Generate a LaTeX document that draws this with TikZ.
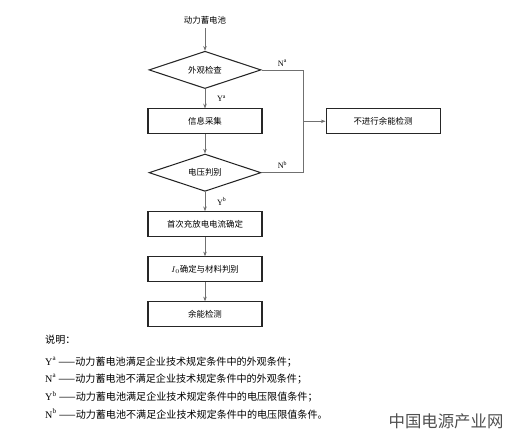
\documentclass[tikz,border=0pt]{standalone}
\usepackage{fontspec}
\setmainfont{Noto Sans CJK SC}
\newfontfamily\latin{Liberation Serif}
\usetikzlibrary{shapes.geometric, arrows.meta, positioning, calc}
\definecolor{boxLine}{HTML}{262626}
\definecolor{linkGray}{HTML}{707070}
\definecolor{siteGray}{HTML}{505050}
\tikzset{
    stepbox/.style={rectangle, draw=boxLine, line width=0.9pt, minimum width=3.42cm, minimum height=0.74cm, inner sep=1pt, font=\fontsize{7.2}{8}\selectfont},
    check/.style={diamond, aspect=3, draw=boxLine, line width=0.9pt, minimum width=3.36cm, minimum height=1.12cm, inner sep=0pt, font=\fontsize{7.2}{8}\selectfont},
    flag/.style={font=\latin\fontsize{7}{8}\selectfont, inner sep=1pt},
    legend/.style={anchor=west, inner sep=0pt, font=\fontsize{8.6}{10}\selectfont},
    arrow/.style={-{Stealth[length=4pt, width=3pt]}, draw=linkGray, line width=0.5pt},
    link/.style={draw=linkGray, line width=0.5pt},
}
\begin{document}
\begin{tikzpicture}[x=0.03cm, y=-0.03cm, node distance=0.58cm and 1.89cm]
    \useasboundingbox (0,0) rectangle (507,431);

    % flow
    \node[font=\fontsize{7.2}{8}\selectfont] (battery) at (205,20) {动力蓄电池};
    \node[check, below=0.68cm of battery] (look) {外观检查};
    \node[stepbox, below=of look] (info) {信息采集};
    \node[check, below=of info] (volt) {电压判别};
    \node[stepbox, below=of volt] (current) {首次充放电电流确定};
    \node[stepbox, below=of current] (material) {$I_0$确定与材料判别};
    \node[stepbox, below=of material] (residual) {余能检测};
    \node[stepbox, right=of info] (skip) {不进行余能检测};
    \coordinate (split) at ($(info.east)!0.65!(skip.west)$);

    \draw[arrow] (battery) -- (look);
    \draw[arrow] (look) -- node[flag, right=9pt] {Y\textsuperscript{a}} (info);
    \draw[arrow] (info) -- (volt);
    \draw[arrow] (volt) -- node[flag, right=9pt] {Y\textsuperscript{b}} (current);
    \draw[arrow] (current) -- (material);
    \draw[arrow] (material) -- (residual);
    \draw[link] (look.east) -- node[flag, above=2pt] {N\textsuperscript{a}} (look.east -| split)
        -- (volt.east -| split) -- node[flag, above=2pt] {N\textsuperscript{b}} (volt.east);
    \draw[arrow] (split |- skip.west) -- (skip);

    % legend
    \node[legend] (note) at (45,340) {说明：};
    \node[legend] (ya) at (45,362) {{\latin Y\textsuperscript{a}} ——动力蓄电池满足企业技术规定条件中的外观条件；};
    \node[legend] (na) at (45,379) {{\latin N\textsuperscript{a}} ——动力蓄电池不满足企业技术规定条件中的外观条件；};
    \node[legend] (yb) at (45,397) {{\latin Y\textsuperscript{b}} ——动力蓄电池满足企业技术规定条件中的电压限值条件；};
    \node[legend] (nb) at (45,414) {{\latin N\textsuperscript{b}} ——动力蓄电池不满足企业技术规定条件中的电压限值条件。};

    \node[font=\fontsize{14}{16}\selectfont, text=siteGray, inner sep=0pt] (site) at (446,421) {中国电源产业网};
\end{tikzpicture}
\end{document}
